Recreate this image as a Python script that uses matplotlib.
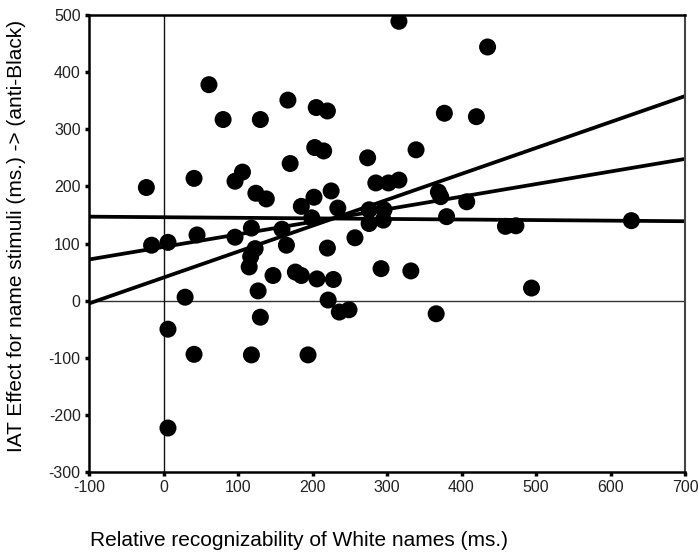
import matplotlib
matplotlib.use("Agg")
import matplotlib.pyplot as plt

plt.rcParams['font.family'] = ['Liberation Sans', 'DejaVu Sans']

# Data
x_vals = [-23, -16, 6, 6, 6, 29, 41, 41, 45, 61, 80, 96, 96, 106, 115, 117, 118, 118,
          124, 123, 130, 127, 130, 138, 147, 159, 167, 165, 170, 177, 185, 185, 194,
          199, 202, 203, 205, 206, 215, 220, 220, 221, 225, 228, 234, 236, 249, 257,
          274, 276, 276, 285, 292, 296, 295, 302, 316, 316, 332, 339, 366, 369, 372,
          377, 380, 407, 420, 435, 459, 473, 494, 628]
y_vals = [198, 97, 102, -50, -223, 6, 214, -94, 115, 378, 317, 209, 111, 225, 59, 77, 127, -95,
          188, 91, 317, 17, -29, 178, 44, 125, 351, 97, 240, 50, 44, 165, -95,
          145, 181, 268, 338, 38, 262, 92, 332, 1, 192, 37, 162, -20, -16, 110,
          250, 159, 135, 206, 56, 159, 141, 206, 211, 489, 52, 264, -23, 190, 182,
          328, 147, 173, 322, 444, 130, 131, 22, 140]

line_x = [-100, 700]
line_steep = [-5, 358]
line_mid = [72, 248]
line_flat = [147, 139]

x_ticks = [-100, 0, 100, 200, 300, 400, 500, 600, 700]
y_ticks = [-300, -200, -100, 0, 100, 200, 300, 400, 500]

fig = plt.figure(figsize=(6.98, 5.53), dpi=100)
ax = fig.add_axes([89/698, 1-472/553, (685-89)/698, (472-15)/553])

ax.axhline(0, color='#333333', lw=1.0, zorder=1)
ax.axvline(0, color='#111111', lw=1.0, zorder=1)

for ly in (line_steep, line_mid, line_flat):
    ax.plot(line_x, ly, color='black', lw=2.7, solid_capstyle='butt', zorder=2)

ax.scatter(x_vals, y_vals, s=150, color='black', edgecolors='none', zorder=3)

ax.set_xlim(-100, 700)
ax.set_ylim(-300, 500)
ax.set_xticks(x_ticks)
ax.set_yticks(y_ticks)
ax.set_xticklabels([str(v) for v in x_ticks])
ax.set_yticklabels([str(v) for v in y_ticks])
ax.tick_params(direction='out', length=3, width=2.5, labelsize=11.5, pad=3,
               colors='black', labelcolor='#222222')

for side in ('top', 'left', 'bottom'):
    ax.spines[side].set_linewidth(1.8)
    ax.spines[side].set_color('black')
ax.spines['right'].set_linewidth(1.5)
ax.spines['right'].set_color('#444444')

fig.text(299/698, 1-540/553, 'Relative recognizability of White names (ms.)',
         ha='center', va='center', fontsize=15)
fig.text(17/698, 1-236/553, 'IAT Effect for name stimuli (ms.) -> (anti-Black)',
         ha='center', va='center', rotation=90, fontsize=15)

fig.savefig('out.png', dpi=100)
